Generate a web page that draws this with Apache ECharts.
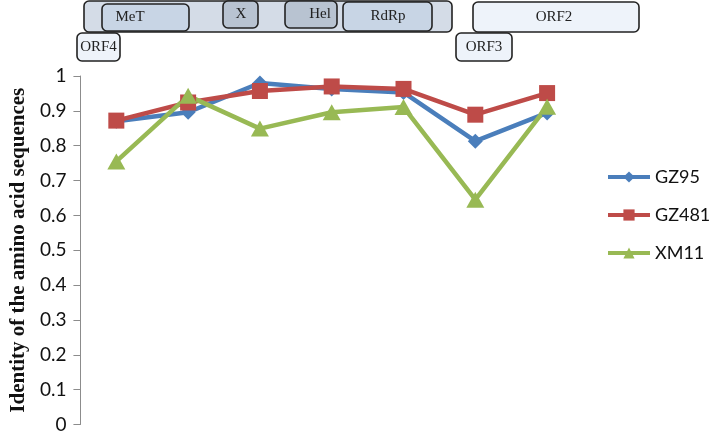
<!DOCTYPE html>
<html>
<head>
<meta charset="utf-8">
<script src="https://cdn.jsdelivr.net/npm/echarts@6/dist/echarts.min.js"></script>
<style>
  html, body { margin: 0; padding: 0; background: #fff; }
  #chart { width: 709px; height: 434px; }
</style>
</head>
<body>
<div id="chart"></div>
<script>
// seven genome regions along the x axis (no labels shown)
const categories = ['R1', 'R2', 'R3', 'R4', 'R5', 'R6', 'R7']
const gz95 = [0.87, 0.896, 0.98, 0.963, 0.953, 0.813, 0.894]
const gz481 = [0.872, 0.924, 0.957, 0.97, 0.963, 0.889, 0.951]
const xm11 = [0.755, 0.943, 0.849, 0.896, 0.911, 0.645, 0.912]
const yTicks = { min: 0, max: 1, interval: 0.1 }

const chart = echarts.init(document.getElementById('chart'))

// genome map boxes drawn above the plot
function box(x, y, w, h, fill, label, tx) {
  const children = [{
    type: 'rect',
    shape: { x: x, y: y, width: w, height: h, r: 5 },
    style: { fill: fill, stroke: '#222', lineWidth: 1.6 }
  }]
  if (label) {
    children.push({
      type: 'text',
      x: tx,
      y: y + h / 2,
      style: {
        text: label,
        font: '15px "Liberation Serif"',
        fill: '#222',
        align: 'center',
        verticalAlign: 'middle'
      }
    })
  }
  return { type: 'group', children: children }
}

chart.setOption({
  animation: false,
  textStyle: { fontFamily: 'Lato' },
  grid: { left: 67, right: 126, top: 76, bottom: 6 },
  legend: {
    orient: 'vertical',
    left: 606,
    top: 168,
    padding: 0,
    itemWidth: 42,
    itemHeight: 14,
    itemGap: 20,
    lineStyle: { width: 4 },
    textStyle: { fontSize: 18, color: '#111', fontFamily: 'Lato' },
    data: ['GZ95', 'GZ481', 'XM11']
  },
  xAxis: {
    type: 'category',
    data: categories,
    boundaryGap: true,
    axisLine: { show: false },
    axisTick: { show: false },
    axisLabel: { show: false }
  },
  yAxis: {
    type: 'value',
    min: yTicks.min,
    max: yTicks.max,
    interval: yTicks.interval,
    name: 'Identity of the amino acid sequences',
    nameLocation: 'middle',
    nameGap: 47,
    nameTextStyle: { fontFamily: 'Liberation Serif', fontWeight: 'bold', fontSize: 21, color: '#111' },
    axisLine: { show: true, lineStyle: { color: '#8c8c8c', width: 1 } },
    axisTick: { show: true, length: 7, lineStyle: { color: '#8c8c8c' } },
    axisLabel: { fontSize: 19, color: '#111', margin: 14, formatter: v => String(Math.round(v * 10) / 10) },
    splitLine: { show: false }
  },
  series: [
    {
      name: 'GZ95', type: 'line', data: gz95,
      symbol: 'diamond', symbolSize: 15,
      lineStyle: { width: 4.5, color: '#4a7ebb' },
      itemStyle: { color: '#4a7ebb' }
    },
    {
      name: 'GZ481', type: 'line', data: gz481,
      symbol: 'rect', symbolSize: 16,
      lineStyle: { width: 4.5, color: '#be4b48' },
      itemStyle: { color: '#be4b48' }
    },
    {
      name: 'XM11', type: 'line', data: xm11,
      symbol: 'triangle', symbolSize: [18, 16],
      lineStyle: { width: 4.5, color: '#98b954' },
      itemStyle: { color: '#98b954' }
    }
  ],
  graphic: [
    box(84, 1, 368, 31, '#d4dce7'),
    box(102, 4, 87, 27, '#c8d5e5', 'MeT', 130),
    box(223, 1, 35, 27, '#b8c3d1', 'X', 241),
    box(285, 1, 52, 27, '#b8c3d1', 'Hel', 320),
    box(343, 2, 89, 29, '#c8d5e5', 'RdRp', 388),
    box(473, 2, 166, 30, '#eef3fa', 'ORF2', 554),
    box(77, 33, 43, 28, '#eef3fa', 'ORF4', 98.5),
    box(456, 33, 56, 28, '#eef3fa', 'ORF3', 484)
  ]
})
</script>
</body>
</html>
